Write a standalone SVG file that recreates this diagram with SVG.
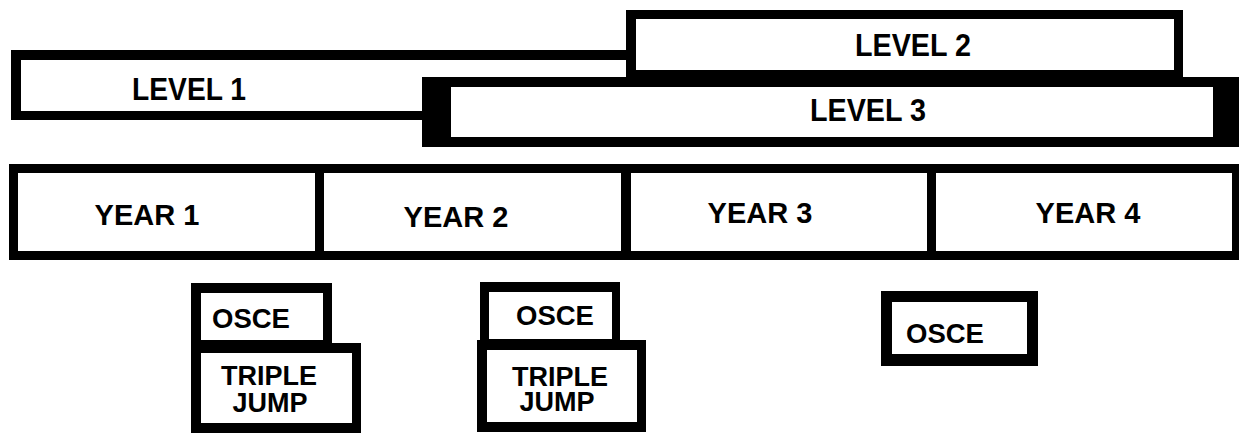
<svg xmlns="http://www.w3.org/2000/svg" width="1239" height="434" viewBox="0 0 1239 434">
<style>
.b{fill:#000}
.w{fill:#fff}
text{font-family:"Liberation Sans",Arial,sans-serif;font-weight:bold;fill:#000;text-anchor:middle}
.lv{font-size:31px}
.yr{font-size:29px}
.ex{font-size:27.5px}
.tj{font-size:27px}
</style>
<rect width="1239" height="434" fill="#fff"/>
<g id="level1">
<rect class="b" x="11" y="50" width="650" height="70"/>
<rect class="w" x="21" y="60" width="640" height="51"/>
<text class="lv" x="189" y="100" textLength="114" lengthAdjust="spacingAndGlyphs">LEVEL 1</text>
</g>
<g id="level3">
<rect class="b" x="422" y="77" width="817" height="70"/>
<rect class="w" x="451" y="87" width="762" height="50"/>
<text class="lv" x="868" y="121" textLength="116" lengthAdjust="spacingAndGlyphs">LEVEL 3</text>
</g>
<g id="level2">
<rect class="b" x="626" y="10" width="557" height="67"/>
<rect class="w" x="636" y="19" width="538" height="51"/>
<text class="lv" x="913" y="56" textLength="116" lengthAdjust="spacingAndGlyphs">LEVEL 2</text>
</g>
<g id="years">
<rect class="b" x="9" y="164" width="1230" height="96"/>
<g id="year1"><rect class="w" x="18" y="173" width="297" height="78"/><text class="yr" x="147" y="225">YEAR 1</text></g>
<g id="year2"><rect class="w" x="324" y="173" width="297" height="78"/><text class="yr" x="456" y="227">YEAR 2</text></g>
<g id="year3"><rect class="w" x="631" y="173" width="296" height="78"/><text class="yr" x="760" y="223">YEAR 3</text></g>
<g id="year4"><rect class="w" x="936" y="173" width="296" height="78"/><text class="yr" x="1088" y="223">YEAR 4</text></g>
</g>
<g id="osce1">
<rect class="b" x="191" y="283" width="141" height="60"/>
<rect class="w" x="201" y="293" width="122" height="47"/>
<text class="ex" x="251" y="328">OSCE</text>
</g>
<g id="triplejump1">
<rect class="b" x="191" y="343" width="170" height="90"/>
<rect class="w" x="201" y="353" width="151" height="70"/>
<text class="tj" x="269" y="385">TRIPLE</text>
<text class="tj" x="270" y="412">JUMP</text>
</g>
<g id="osce2">
<rect class="b" x="480" y="282" width="140" height="58"/>
<rect class="w" x="489" y="292" width="123" height="47"/>
<text class="ex" x="555" y="325">OSCE</text>
</g>
<g id="triplejump2">
<rect class="b" x="477" y="340" width="169" height="92"/>
<rect class="w" x="487" y="350" width="150" height="72"/>
<text class="tj" x="560" y="386">TRIPLE</text>
<text class="tj" x="557" y="411">JUMP</text>
</g>
<g id="osce3">
<rect class="b" x="881" y="291" width="157" height="75"/>
<rect class="w" x="892" y="302" width="135" height="52"/>
<text class="ex" x="945" y="343">OSCE</text>
</g>
<g id="connectors"/>
</svg>
